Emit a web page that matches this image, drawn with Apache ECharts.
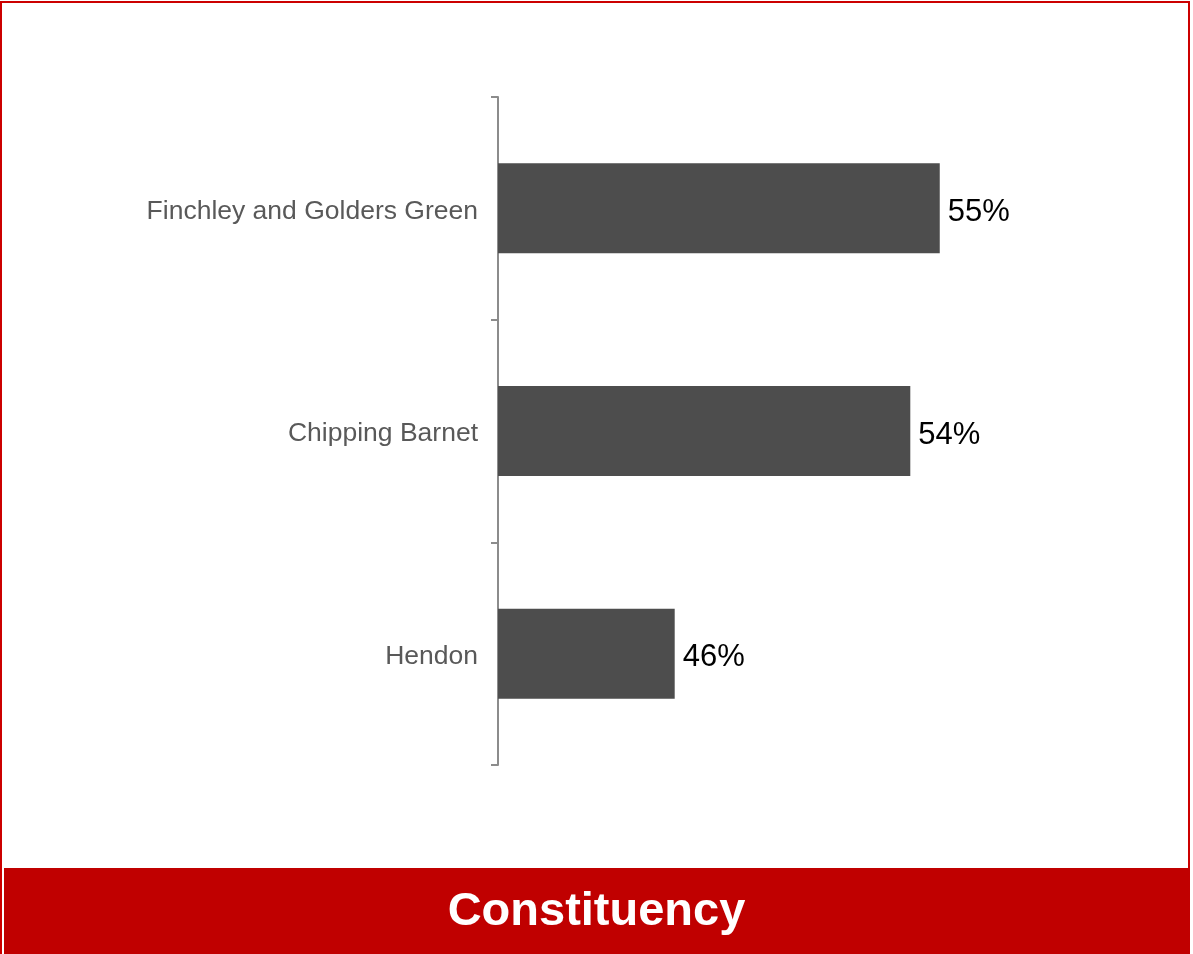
<!DOCTYPE html>
<html>
<head lang="en">
    <meta charset="UTF-8">
    <title>Constituency</title>
    <style>
        html, body { margin: 0; padding: 0; background: #fff; }
    </style>
</head>
<body>
<div id="container" style="height:954px;width:1193px"></div>
<script type="text/javascript" src="https://cdn.jsdelivr.net/npm/echarts@6/dist/echarts.min.js"></script>
<script type="text/javascript">
    var constituencies = ['Finchley and Golders Green', 'Chipping Barnet', 'Hendon'];
    var shares = [55, 54, 46];
    var axisMin = 40, axisMax = 60;

    var dom = document.getElementById("container");
    var myChart = echarts.init(dom);

    var option = {
        animation: false,
        backgroundColor: '#ffffff',
        grid: {
            left: 498,
            top: 97,
            width: 589,
            height: 668
        },
        graphic: [
            {
                type: 'rect',
                shape: { x: 1, y: 2, width: 1188, height: 960 },
                style: { fill: null, stroke: '#cc0000', lineWidth: 2 }
            },
            {
                type: 'rect',
                shape: { x: 4, y: 868, width: 1186, height: 86 },
                style: { fill: '#c00000' }
            },
            {
                type: 'text',
                left: 'center',
                top: 889,
                style: {
                    text: 'Constituency',
                    fill: '#ffffff',
                    font: 'bold 47px "Liberation Sans", Arial, sans-serif'
                }
            }
        ],
        xAxis: {
            type: 'value',
            min: axisMin,
            max: axisMax,
            show: false
        },
        yAxis: {
            type: 'category',
            data: constituencies,
            inverse: true,
            axisLine: { show: true, lineStyle: { color: '#8c8c8c', width: 2 } },
            axisTick: { show: true, inside: false, length: 7, lineStyle: { color: '#8c8c8c', width: 2 } },
            axisLabel: {
                margin: 20,
                formatter: '{n|{value}}',
                rich: {
                    n: {
                        color: '#595959',
                        fontSize: 26.5,
                        fontFamily: '"Liberation Sans", Arial, sans-serif',
                        padding: [6, 0, 0, 0]
                    }
                }
            }
        },
        series: [
            {
                type: 'bar',
                data: shares,
                barWidth: 90,
                itemStyle: { color: '#4d4d4d' },
                label: {
                    show: true,
                    position: 'right',
                    distance: 8,
                    offset: [0, 4],
                    color: '#000000',
                    fontSize: 31,
                    fontFamily: '"Liberation Sans", Arial, sans-serif',
                    formatter: '{c}%'
                }
            }
        ]
    };
    myChart.setOption(option);
</script>
</body>
</html>
